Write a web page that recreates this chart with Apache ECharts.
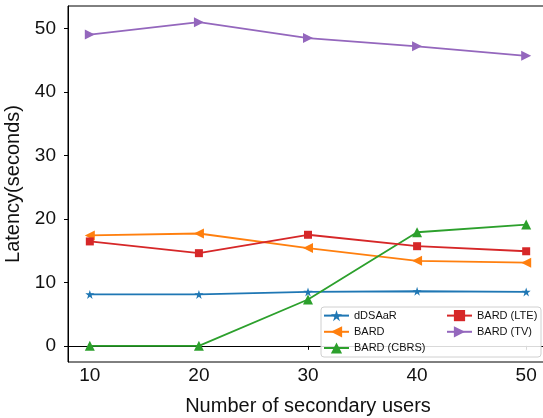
<!DOCTYPE html>
<html>
<head>
<meta charset="utf-8">
<script src="https://cdn.jsdelivr.net/npm/echarts@6/dist/echarts.min.js"></script>
<style>
html,body{margin:0;padding:0;background:#fff;}
#chart{width:543px;height:418px;}
</style>
</head>
<body>
<div id="chart"></div>
<script>
const users = [10, 20, 30, 40, 50];
const xTicks = [10, 20, 30, 40, 50];
const yTicks = [0, 10, 20, 30, 40, 50];
const dDSAaR = [8.1, 8.1, 8.5, 8.6, 8.5];
const bard = [17.4, 17.7, 15.4, 13.4, 13.1];
const bardCBRS = [0, 0, 7.3, 17.9, 19.1];
const bardLTE = [16.45, 14.6, 17.5, 15.7, 14.9];
const bardTV = [49.05, 51.0, 48.5, 47.2, 45.7];

const FONT = '"Liberation Sans", Arial, sans-serif';
const star = 'path://M100,0 L122.45,69.1 L195.1,69.1 L136.33,111.8 L158.78,180.9 L100,138.2 L41.22,180.9 L63.67,111.8 L4.9,69.1 L77.55,69.1 Z';

function mk(name, vals, color, symbol, size, rot) {
  return {
    name: name,
    type: 'line',
    data: users.map((u, i) => [u, vals[i]]),
    symbol: symbol,
    symbolSize: size,
    symbolRotate: rot || 0,
    showAllSymbol: true,
    lineStyle: { color: color, width: 1.8 },
    itemStyle: { color: color, borderWidth: 0 },
    emphasis: { disabled: true },
    animation: false
  };
}

const chart = echarts.init(document.getElementById('chart'), null, { renderer: 'canvas' });
chart.setOption({
  animation: false,
  backgroundColor: '#fff',
  grid: { left: 68, right: -5, top: 6, bottom: 56, show: true, borderColor: '#000', borderWidth: 1, backgroundColor: 'transparent', containLabel: false, outerBoundsMode: 'none' },
  xAxis: {
    type: 'value', min: 8, max: 52,
    splitLine: { show: false },
    axisLine: { show: true, lineStyle: { color: '#000', width: 1 } },
    axisTick: { show: true, length: 4, lineStyle: { color: '#000' }, customValues: xTicks },
    axisLabel: { customValues: xTicks, color: '#111', fontSize: 19, fontFamily: FONT, margin: 4 },
    name: 'Number of secondary users',
    nameLocation: 'middle', nameGap: 34,
    nameTextStyle: { color: '#111', fontSize: 20, fontFamily: FONT }
  },
  yAxis: {
    type: 'value', min: -2.55, max: 53.55,
    splitLine: { show: false },
    axisLine: { show: true, lineStyle: { color: '#000', width: 1 } },
    axisTick: { show: true, length: 4, lineStyle: { color: '#000' }, customValues: yTicks },
    axisLabel: { customValues: yTicks, color: '#111', fontSize: 19, fontFamily: FONT, margin: 12 },
    name: 'Latency(seconds)',
    nameLocation: 'middle', nameGap: 42, nameRotate: 90,
    nameTextStyle: { color: '#111', fontSize: 20, fontFamily: FONT }
  },
  graphic: [{
    type: 'rect', left: 320.5, top: 306.5, shape: { width: 220, height: 50, r: 3 },
    style: { fill: 'rgba(255,255,255,0.85)', stroke: '#d0d0d0', lineWidth: 1 }, z: 10
  }],
  legend: [
    {
      data: ['dDSAaR', 'BARD', 'BARD (CBRS)'],
      orient: 'vertical', left: 323, top: 310, padding: 0, itemWidth: 25, itemHeight: 14, itemGap: 5,
      textStyle: { fontSize: 11, fontFamily: FONT, color: '#111' }, z: 20, selectedMode: false
    },
    {
      data: ['BARD (LTE)', 'BARD (TV)'],
      orient: 'vertical', left: 446, top: 310, padding: 0, itemWidth: 25, itemHeight: 14, itemGap: 5,
      textStyle: { fontSize: 11, fontFamily: FONT, color: '#111' }, z: 20, selectedMode: false
    }
  ],
  series: [
    mk('dDSAaR', dDSAaR, '#1f77b4', star, [9, 9]),
    mk('BARD', bard, '#ff7f0e', 'triangle', 10, 90),
    mk('BARD (CBRS)', bardCBRS, '#2ca02c', 'triangle', 10, 0),
    mk('BARD (LTE)', bardLTE, '#d62728', 'rect', 8),
    mk('BARD (TV)', bardTV, '#9467bd', 'triangle', 10, -90)
  ]
});
</script>
</body>
</html>
